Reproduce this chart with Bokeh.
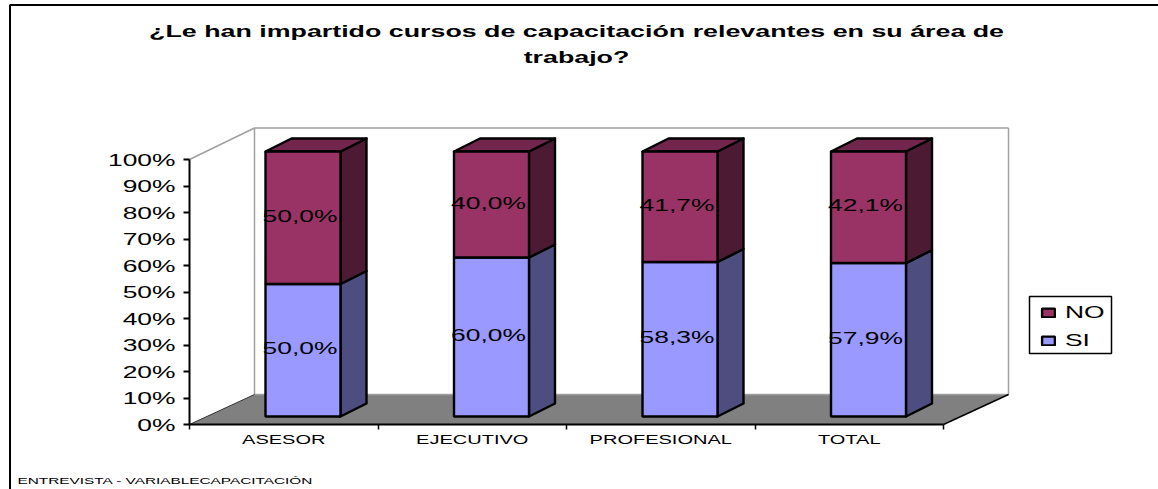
from bokeh.plotting import figure
from bokeh.io import curdoc
from bokeh.models import Range1d, LinearAxis, FixedTicker, Label, Legend, LegendItem, CustomJS
from bokeh.embed import file_html
from bokeh.resources import INLINE

categories = ["ASESOR", "EJECUTIVO", "PROFESIONAL", "TOTAL"]
si_values = [50.0, 60.0, 58.3, 57.9]
no_values = [50.0, 40.0, 41.7, 42.1]
si_labels = ["50,0%", "60,0%", "58,3%", "57,9%"]
no_labels = ["50,0%", "40,0%", "41,7%", "42,1%"]
y_ticks = [0, 10, 20, 30, 40, 50, 60, 70, 80, 90, 100]
title_lines = ["¿Le han impartido cursos de capacitación relevantes en su área de", "trabajo?"]
footnote = "ENTREVISTA - VARIABLECAPACITACIÓN"

W, H = 1158, 489
X0, Y0 = 189.0, 424.0          # pixel position of the axes' origin
UX, UY = 188.5, 2.65           # pixels per category, pixels per percent
FONT = "Liberation Sans"

def px(x):
    return (x - X0) / UX

def py(y):
    return (Y0 - y) / UY

p = figure(width=W, height=H, output_backend="svg", toolbar_location=None,
           x_range=Range1d(px(0), px(W)), y_range=Range1d(py(H), py(0)),
           x_axis_type=None, y_axis_type=None, min_border=0,
           outline_line_color=None, background_fill_color="white")
p.grid.visible = False

# chart frame
p.line([px(W), px(9.5), px(9.5)], [py(4.5), py(4.5), py(H)], line_color="black", line_width=2)

# 3D walls and floor
WALL = "#a0a0a0"
p.patch([px(189), px(254), px(1008), px(943)], [py(424), py(394), py(394), py(424)],
        fill_color="#808080", line_color=None)
p.line([px(189), px(254), px(254), px(1008), px(1008)],
       [py(159), py(127.5), py(394), py(394), py(127.5)], line_color=WALL, line_width=1.5)
p.line([px(254), px(1008)], [py(127.5), py(127.5)], line_color=WALL, line_width=1.5)
p.line([px(189), px(254)], [py(424), py(394)], line_color="#333333", line_width=1)
p.line([px(943), px(1008)], [py(424), py(394)], line_color="black", line_width=1.5)

# bars
OFF_X, OFF_Y = 19.25 / UX, 8 / UY
BAR_W = 75 / UX
DX, DY = 26 / UX, 13 / UY
EDGE = 2.4
centers = [i + 0.5 + OFF_X for i in range(len(categories))]
lefts = [c - BAR_W / 2 for c in centers]
rights = [c + BAR_W / 2 for c in centers]
no_tops = [s + n for s, n in zip(si_values, no_values)]

def faces(bottoms, tops, side_color, front_color, top_color=None):
    side_x = [[r, r + DX, r + DX, r] for r in rights]
    side_y = [[b + OFF_Y, b + OFF_Y + DY, t + OFF_Y + DY, t + OFF_Y] for b, t in zip(bottoms, tops)]
    p.patches(side_x, side_y, fill_color=side_color, line_color="black", line_width=EDGE, line_join="round")
    if top_color:
        top_x = [[l, l + DX, r + DX, r] for l, r in zip(lefts, rights)]
        top_y = [[t + OFF_Y, t + OFF_Y + DY, t + OFF_Y + DY, t + OFF_Y] for t in tops]
        p.patches(top_x, top_y, fill_color=top_color, line_color="black", line_width=EDGE, line_join="round")
    return p.quad(left=lefts, right=rights, bottom=[b + OFF_Y for b in bottoms],
                  top=[t + OFF_Y for t in tops], fill_color=front_color,
                  line_color="black", line_width=EDGE)

si_r = faces([0] * 4, si_values, "#4d4d80", "#9999ff")
no_r = faces(si_values, no_tops, "#4d1a33", "#993366", "#73264d")

# value labels
label_x = [c - 3 / UX for c in centers]
label_kw = dict(text_font={"value": FONT}, text_font_size="16.5px", text_color="black",
                text_align="center", text_baseline="middle")
lift = 2 / UY
p.text(label_x, [s / 2 + OFF_Y + lift for s in si_values], si_labels, **label_kw)
p.text(label_x, [s + n / 2 + OFF_Y + lift for s, n in zip(si_values, no_values)], no_labels, **label_kw)

# axes
yax = LinearAxis(fixed_location=0, bounds=(0, 100), ticker=FixedTicker(ticks=y_ticks),
                 major_label_overrides={t: f"{t}%" for t in y_ticks},
                 major_label_text_font=FONT, major_label_text_font_size="16.5px",
                 major_label_text_color="black", major_label_standoff=8,
                 major_tick_in=0, major_tick_out=6, minor_tick_line_color=None,
                 axis_line_color="black", axis_line_width=2, major_tick_line_color="black",
                 major_tick_line_width=2)
p.add_layout(yax, "left")

tick_positions = list(range(len(categories) + 1))
xax = LinearAxis(fixed_location=0, bounds=(0, len(categories)), ticker=FixedTicker(ticks=tick_positions),
                 major_label_text_font_size="0px", major_label_text_color=None,
                 major_tick_in=0, major_tick_out=5, minor_tick_line_color=None,
                 axis_line_color="black", axis_line_width=2, major_tick_line_color="black",
                 major_tick_line_width=1.5)
p.add_layout(xax, "below")

label_pos = [i + 0.5 for i in range(len(categories))]
xlab = LinearAxis(fixed_location=0, ticker=FixedTicker(ticks=label_pos),
                  major_label_overrides=dict(zip(label_pos, categories)),
                  major_label_text_font=FONT, major_label_text_font_size="12.5px",
                  major_label_text_color="black", major_label_standoff=2,
                  major_tick_line_color=None, minor_tick_line_color=None, axis_line_color=None)
p.add_layout(xlab, "below")

# title and footnote
for line, y in zip(title_lines, [31, 57]):
    p.add_layout(Label(x=576, y=H - y, x_units="screen", y_units="screen", text=line,
                       text_font=FONT, text_font_style="bold", text_font_size="16.75px",
                       text_color="black", text_align="center", text_baseline="middle"))
p.add_layout(Label(x=17, y=H - 480, x_units="screen", y_units="screen", text=footnote,
                   text_font=FONT, text_font_size="9.6px", text_color="black",
                   text_align="left", text_baseline="middle"))

# legend: box drawn behind, entries from the bar renderers
p.quad(left=[px(1029)], right=[px(1111)], bottom=[py(353)], top=[py(296)],
       fill_color="white", line_color="black", line_width=1.5)
legend = Legend(items=[LegendItem(label="NO", renderers=[no_r]), LegendItem(label="SI", renderers=[si_r])],
                location=(1040, H - 350), orientation="vertical",
                border_line_color=None, background_fill_alpha=0,
                label_text_font=FONT, label_text_font_size="16.5px",
                label_text_color="black", glyph_width=16, glyph_height=11,
                padding=0, margin=0, spacing=9, label_standoff=9)
p.add_layout(legend, "center")

# the reference's texts are stretched horizontally
doc = curdoc()
doc.add_root(p)
doc.js_on_event("document_ready", CustomJS(code="""
const FACTOR = 1.6;
function walk(root) {
  root.querySelectorAll('*').forEach((el) => {
    if (el.shadowRoot) walk(el.shadowRoot);
    const t = (el.textContent || '').trim();
    if (el.tagName.toLowerCase() === 'text') {
      if (el.hasAttribute('textLength')) return;
      const len = el.getComputedTextLength();
      if (len > 0) {
        const extra = len * (FACTOR - 1);
        let shift = extra / 2;
        if (/^[0-9]+%$/.test(t)) shift = extra;
        if (t.startsWith('ENTREVISTA')) shift = 0;
        el.setAttribute('x', (parseFloat(el.getAttribute('x') || '0') - shift).toFixed(2));
        el.setAttribute('textLength', (len * FACTOR).toFixed(1));
        el.setAttribute('lengthAdjust', 'spacingAndGlyphs');
      }
    } else if (el.children.length === 0 && (t === 'NO' || t === 'SI')) {
      el.style.display = 'inline-block';
      el.style.transformOrigin = 'left center';
      el.style.transform = 'scaleX(1.6)';
    }
  });
}
walk(document);
let n = 0;
const timer = setInterval(() => { walk(document); if (++n > 20) clearInterval(timer); }, 100);
"""))

open("out.html", "w").write(file_html(p, INLINE))
